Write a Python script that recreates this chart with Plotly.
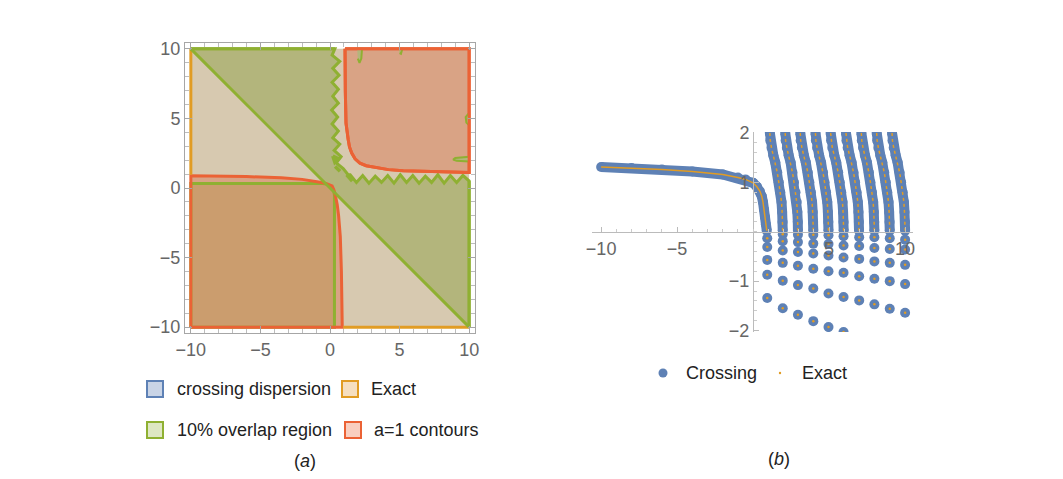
import plotly.graph_objects as go

W, H = 1063, 479
FONT = "Liberation Sans, Arial, sans-serif"

# ---------------- panel (a) data ----------------
square_x = [-10, 10, 10, -10]
square_y = [-10, -10, 10, 10]

# 10% overlap region (upper part): top edge, wavy boundary, right edge, diagonal back
wavy_v_x = [0.35, 0.15, 0.7, 0.2, 0.65, 0.15, 0.6, 0.2, 0.6, 0.12, 0.55, 0.15, 0.6, 0.2, 0.7, 0.3, 0.8, 0.45, 0.95, 1.3]
wavy_v_y = [10, 9.55, 9.1, 8.6, 8.1, 7.6, 7.1, 6.6, 6.1, 5.6, 5.1, 4.6, 4.1, 3.6, 3.15, 2.7, 2.25, 1.8, 1.4, 0.95]
wavy_h_x = [1.45, 1.9, 2.35, 2.8, 3.25, 3.7, 4.15, 4.6, 5.05, 5.5, 5.95, 6.4, 6.85, 7.3, 7.75, 8.2, 8.65, 9.1, 9.55, 10]
wavy_h_y = [0.95, 0.4, 0.9, 0.35, 0.85, 0.4, 0.9, 0.35, 0.95, 0.4, 0.9, 0.35, 0.85, 0.4, 0.95, 0.35, 0.9, 0.4, 0.9, 0.5]

# a=1 contour, upper right region
red_ur_x = [1.08, 10, 10, 7.5, 5.26, 4.2, 3.35, 2.6, 2.15, 1.8, 1.56, 1.4, 1.31, 1.2, 1.15, 1.1, 1.08]
red_ur_y = [10, 10, 1.12, 1.17, 1.24, 1.32, 1.44, 1.6, 1.79, 2.1, 2.51, 2.95, 3.47, 4.1, 4.67, 7.0, 10]

# a=1 contour, lower left region
red_ll_x = [-10, -10, -6, -3.5, -2, -1.2, -0.6, -0.2, 0.05, 0.15, 0.2, 0.3, 0.4, 0.52, 0.62, 0.74, 0.82, 0.88, -10]
red_ll_y = [-10, 0.88, 0.82, 0.74, 0.62, 0.52, 0.4, 0.3, 0.2, 0.15, 0.05, -0.2, -0.6, -1.2, -2, -3.5, -6, -10, -10]

# 10% overlap region, lower left
grn_ll_x = [-10, -10, -0.5, -0.2, -0.02, 0.06, 0.14, 0.26, 0.32, 0.32, -10]
grn_ll_y = [-10, 0.32, 0.32, 0.26, 0.14, 0.06, -0.02, -0.2, -0.5, -10, -10]

# small islands of the overlap region
islands = [
    ([1.95, 2.3, 2.25, 2.12, 2.0], [10, 10, 9.3, 9.0, 9.3]),
    ([4.9, 5.2, 5.1, 5.0], [10, 10, 9.65, 9.7]),
    ([10, 9.75, 9.8, 10], [5.4, 5.1, 4.7, 4.5]),
    ([10, 9.0, 8.85, 9.1, 10], [2.25, 2.15, 2.05, 1.95, 1.9]),
]
dashes = [
    ([0.37, 0.72], [1.55, 1.2]),
    ([1.2, 1.6], [0.95, 0.5]),
    ([0.2, 0.6, 0.35, 0.2], [2.3, 2.1, 1.85, 2.3]),
]

# ---------------- panel (b) data ----------------
left_x = [-10, -8, -6, -4, -2, -1, -0.5, 0, 0.25, 0.45, 0.57, 0.65, 0.72, 0.78, 0.84, 0.9]
left_y = [1.31, 1.29, 1.26, 1.22, 1.16, 1.1, 1.06, 0.99, 0.91, 0.82, 0.72, 0.6, 0.45, 0.3, 0.15, 0.02]

branch_y = [2.0, 1.85, 1.7, 1.55, 1.4, 1.2, 1.0, 0.8, 0.6, 0.4, 0.2, 0.02]
branches_x = [
    [1.10, 1.13, 1.21, 1.33, 1.46, 1.59, 1.69, 1.79, 1.87, 1.91, 1.94, 1.95],
    [2.11, 2.14, 2.22, 2.34, 2.47, 2.59, 2.69, 2.79, 2.87, 2.91, 2.94, 2.95],
    [3.10, 3.13, 3.21, 3.34, 3.47, 3.60, 3.70, 3.80, 3.88, 3.92, 3.95, 3.96],
    [4.10, 4.13, 4.21, 4.34, 4.47, 4.60, 4.70, 4.80, 4.88, 4.92, 4.95, 4.96],
    [5.10, 5.13, 5.21, 5.34, 5.47, 5.60, 5.70, 5.80, 5.88, 5.92, 5.95, 5.96],
    [6.11, 6.14, 6.22, 6.35, 6.48, 6.61, 6.71, 6.81, 6.89, 6.93, 6.96, 6.97],
    [7.12, 7.15, 7.23, 7.36, 7.49, 7.62, 7.72, 7.82, 7.90, 7.94, 7.97, 7.98],
    [8.13, 8.16, 8.24, 8.37, 8.50, 8.63, 8.73, 8.83, 8.91, 8.95, 8.98, 8.99],
    [9.14, 9.17, 9.25, 9.38, 9.51, 9.64, 9.74, 9.84, 9.92, 9.96, 9.99, 10.0],
]

col_x = [0.93, 1.95, 2.95, 3.96, 4.96, 5.95, 6.98, 7.98, 8.99, 10.0]
col_y = [
    [-0.13, -0.31, -0.57, -0.87, -1.34],
    [-0.05, -0.19, -0.38, -0.63, -0.99, -1.55],
    [-0.06, -0.21, -0.41, -0.69, -1.08, -1.68],
    [-0.06, -0.24, -0.44, -0.75, -1.15, -1.81],
    [-0.07, -0.25, -0.48, -0.80, -1.25, -1.93],
    [-0.09, -0.28, -0.52, -0.83, -1.32, -2.03],
    [-0.11, -0.29, -0.55, -0.90, -1.39],
    [-0.11, -0.33, -0.60, -0.95, -1.47],
    [-0.13, -0.35, -0.63, -1.00, -1.56],
    [-0.16, -0.36, -0.67, -1.06, -1.64],
]

# ---------------- colours ----------------
BLUE = "#5E81B5"
ORANGE = "#E19C24"
GREEN = "#8FB032"
RED = "#EB6235"
TAN = "#D7C9B0"
GREEN_FILL = "#B3B57C"
RED_FILL = "#D9A385"
BROWN_FILL = "#CB9D6E"

fig = go.Figure()

def poly(x, y, fill, line=None, width=3, name=None):
    fig.add_trace(go.Scatter(
        x=x, y=y, mode="lines" if line else "none", fill="toself", fillcolor=fill,
        line=dict(color=line or fill, width=width), hoverinfo="skip",
        showlegend=False, name=name, xaxis="x", yaxis="y"))

def lines(x, y, color, width=3, dash=None, name=None):
    fig.add_trace(go.Scatter(
        x=x, y=y, mode="lines", line=dict(color=color, width=width, dash=dash),
        hoverinfo="skip", showlegend=False, name=name, xaxis="x", yaxis="y"))

# panel (a)
poly(square_x, square_y, TAN, name="crossing dispersion / Exact")
poly([-10] + wavy_v_x + wavy_h_x + [10], [10] + wavy_v_y + wavy_h_y + [-10], GREEN_FILL, GREEN, name="10% overlap region")
poly(red_ur_x, red_ur_y, RED_FILL, RED, name="a=1 contours")
for ix, iy in islands:
    poly(ix, iy, GREEN_FILL, GREEN, width=2)
for dx, dy in dashes:
    lines(dx, dy, GREEN, width=3.5)
poly(red_ll_x, red_ll_y, RED_FILL)
poly(grn_ll_x, grn_ll_y, BROWN_FILL, GREEN)
lines(red_ll_x, red_ll_y, RED)
lines([-10, -10], [0.95, 10], ORANGE)
lines([0.95, 10], [-10, -10], ORANGE)
lines([10, 10], [0.5, -10], GREEN)
lines([-10, 10], [10, -10], GREEN)
lines([-10, 0.35], [10, 10], GREEN)
lines(red_ur_x, red_ur_y, RED)

# panel (b)
all_band_x = [left_x] + branches_x
all_band_y = [left_y] + [branch_y] * len(branches_x)
for bx, by in zip(all_band_x, all_band_y):
    fig.add_trace(go.Scatter(
        x=bx, y=by, mode="lines+markers", name="Crossing",
        line=dict(color=BLUE, width=10), marker=dict(color=BLUE, size=10),
        showlegend=False, xaxis="x2", yaxis="y2", hoverinfo="skip"))
for cx, cys in zip(col_x, col_y):
    fig.add_trace(go.Scatter(
        x=[cx] * len(cys), y=cys, mode="markers", name="Crossing",
        marker=dict(color=BLUE, size=10), showlegend=False,
        xaxis="x2", yaxis="y2", hoverinfo="skip"))
for i, (bx, by) in enumerate(zip(all_band_x, all_band_y)):
    fig.add_trace(go.Scatter(
        x=bx, y=by, mode="lines", name="Exact",
        line=dict(color=ORANGE, width=1.5, dash=None if i == 0 else "dot"),
        showlegend=False, xaxis="x2", yaxis="y2", hoverinfo="skip"))
for cx, cys in zip(col_x, col_y):
    fig.add_trace(go.Scatter(
        x=[cx] * len(cys), y=cys, mode="markers", name="Exact",
        marker=dict(color=ORANGE, size=2.5), showlegend=False,
        xaxis="x2", yaxis="y2", hoverinfo="skip"))

def px(x):
    return x / W

def py(y):
    return 1 - y / H

tickfont = dict(family=FONT, size=18, color="#666666")
frame_axis = dict(
    range=[-10.42, 10.42], showgrid=False, zeroline=False, showline=True,
    linecolor="#A6A6A6", linewidth=1, mirror="allticks", ticks="inside",
    ticklen=7, tickcolor="#A6A6A6", tickvals=[-10, -5, 0, 5, 10],
    minor=dict(dtick=1, ticklen=4, ticks="inside", tickcolor="#BDBDBD"),
    tickfont=tickfont, fixedrange=True, automargin=False)

shapes = []
annotations = []

def swatch(x0, yc, border, fill):
    shapes.append(dict(type="rect", xref="paper", yref="paper",
                       x0=px(x0), x1=px(x0 + 16), y0=py(yc + 8), y1=py(yc - 8),
                       line=dict(color=border, width=2), fillcolor=fill))

def text(x, y, s, anchor="left", size=18):
    annotations.append(dict(x=px(x), y=py(y), xref="paper", yref="paper",
                            text=s, showarrow=False, xanchor=anchor, yanchor="middle",
                            font=dict(family=FONT, size=size, color="#222222")))

swatch(147, 389, BLUE, "#C9D4E6")
text(175, 389, "crossing dispersion")
swatch(342, 389, ORANGE, "#F6DFC0")
text(369, 389, "Exact")
swatch(345, 430, RED, "#F9CFC0")
swatch(147, 430, GREEN, "#DEE7C3")
text(175, 430, "10% overlap region")
text(372, 430, "a=1 contours")
text(305, 461, "(<i>a</i>)", anchor="center")

shapes.append(dict(type="circle", xref="paper", yref="paper",
                   x0=px(658.5), x1=px(667.5), y0=py(377.5), y1=py(368.5),
                   fillcolor=BLUE, line=dict(width=0)))
text(684, 373, "Crossing")
shapes.append(dict(type="circle", xref="paper", yref="paper",
                   x0=px(778.8), x1=px(781.2), y0=py(374.2), y1=py(371.8),
                   fillcolor=ORANGE, line=dict(width=0)))
text(800, 373, "Exact")
text(779, 459, "(<i>b</i>)", anchor="center")

fig.update_layout(
    width=W, height=H, margin=dict(l=0, r=0, t=0, b=0, pad=0, autoexpand=False),
    paper_bgcolor="white", plot_bgcolor="rgba(0,0,0,0)",
    showlegend=False,
    xaxis=dict(domain=[px(185), px(475)], anchor="y", **frame_axis),
    yaxis=dict(domain=[py(333), py(43)], anchor="x", **frame_axis),
    xaxis2=dict(domain=[px(592), px(913)], range=[-10.6, 10.52], anchor="free",
                position=py(231.8), showgrid=False, zeroline=False, showline=True,
                linecolor="#BBBBBB", linewidth=1.2, ticks="inside", ticklen=5,
                tickcolor="#BBBBBB", tickvals=[-10, -5, 5, 10],
                minor=dict(dtick=1, ticklen=3, ticks="inside", tickcolor="#CCCCCC"),
                tickfont=tickfont, fixedrange=True, automargin=False),
    yaxis2=dict(domain=[py(332), py(132)], range=[-2.03, 2.02], anchor="free",
                position=px(753.1), showgrid=False, zeroline=False, showline=True,
                linecolor="#BBBBBB", linewidth=1.2, ticks="inside", ticklen=5,
                tickcolor="#BBBBBB", tickvals=[-2, -1, 1, 2],
                minor=dict(dtick=0.2, ticklen=3, ticks="inside", tickcolor="#CCCCCC"),
                tickfont=tickfont, fixedrange=True, automargin=False),
    shapes=shapes, annotations=annotations,
)

fig.write_html("out.html", config={"displayModeBar": False},
               post_script="document.body.style.margin='0px';")
